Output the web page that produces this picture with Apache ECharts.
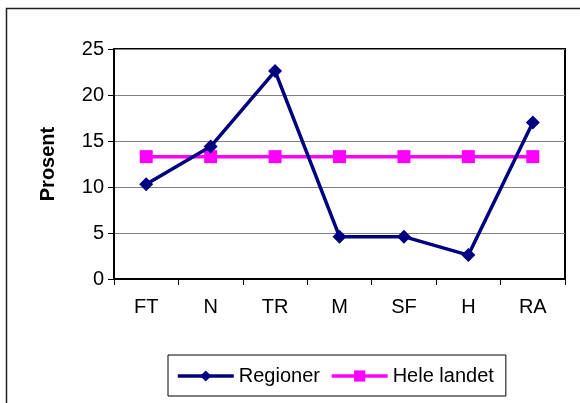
<!DOCTYPE html>
<html>
<head>
<meta charset="utf-8">
<script src="https://cdn.jsdelivr.net/npm/echarts@6/dist/echarts.min.js"></script>
<style>
  html, body { margin: 0; padding: 0; background: #fff; }
  #chart { width: 580px; height: 403px; }
</style>
</head>
<body>
<div id="chart"></div>
<script>
// regions along the x axis
const categories = ["FT", "N", "TR", "M", "SF", "H", "RA"];
const regioner = [10.3, 14.4, 22.6, 4.6, 4.6, 2.6, 17.0];
const heleLandet = [13.3, 13.3, 13.3, 13.3, 13.3, 13.3, 13.3];
const yTicks = [0, 5, 10, 15, 20, 25];

const font = "Liberation Sans, Arial, sans-serif";
const chart = echarts.init(document.getElementById("chart"));

chart.setOption({
  animation: false,
  graphic: [
    {
      // outer frame, cut off at right and bottom like the source
      type: "rect",
      shape: { x: 6.5, y: 8.5, width: 700, height: 500 },
      style: { fill: "none", stroke: "#222", lineWidth: 1.5 },
      silent: true
    }
  ],
  grid: {
    left: 114,
    top: 49,
    width: 451,
    height: 230,
    show: true,
    borderColor: "#000",
    borderWidth: 2,
    backgroundColor: "transparent"
  },
  legend: {
    left: 168,
    top: 355,
    padding: [11, 12, 10, 8],
    itemGap: 10,
    itemWidth: 56,
    itemHeight: 14,
    borderColor: "#000",
    borderWidth: 1,
    lineStyle: { width: 3.5 },
    textStyle: { fontFamily: font, fontSize: 20, color: "#000" },
    data: ["Regioner", "Hele landet"]
  },
  xAxis: {
    type: "category",
    data: categories,
    boundaryGap: true,
    axisLine: { lineStyle: { color: "#000", width: 2 } },
    axisTick: { show: true, length: 6, interval: 0, lineStyle: { color: "#000" } },
    axisLabel: { fontFamily: font, fontSize: 20, color: "#000", margin: 18, interval: 0 }
  },
  yAxis: {
    type: "value",
    min: yTicks[0],
    max: yTicks[yTicks.length - 1],
    interval: 5,
    name: "Prosent",
    nameLocation: "middle",
    nameGap: 56,
    nameRotate: 90,
    nameTextStyle: { fontFamily: font, fontSize: 20, fontWeight: "bold", color: "#000" },
    axisLine: { show: true, lineStyle: { color: "#000", width: 2 } },
    axisTick: { show: true, length: 6, lineStyle: { color: "#000" } },
    axisLabel: { fontFamily: font, fontSize: 20, color: "#000", margin: 10 },
    splitLine: { show: true, lineStyle: { color: "#808080", width: 1 } }
  },
  series: [
    {
      name: "Regioner",
      type: "line",
      data: regioner,
      symbol: "diamond",
      symbolSize: 14,
      lineStyle: { color: "#000080", width: 3.5 },
      itemStyle: { color: "#000080" },
      z: 3
    },
    {
      name: "Hele landet",
      type: "line",
      data: heleLandet,
      symbol: "rect",
      symbolSize: 13,
      lineStyle: { color: "#ff00ff", width: 3.5 },
      itemStyle: { color: "#ff00ff" },
      z: 2
    }
  ]
});
</script>
</body>
</html>
